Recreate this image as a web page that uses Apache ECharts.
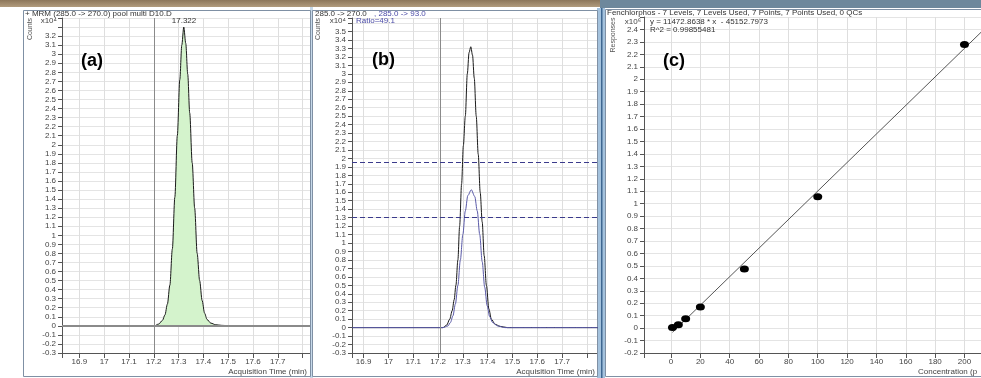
<!DOCTYPE html>
<html>
<head>
<meta charset="utf-8">
<script src="https://cdn.jsdelivr.net/npm/echarts@6.0.0/dist/echarts.min.js"></script>
<style>
html, body { margin: 0; padding: 0; background: #fff; overflow: hidden; }
#main { width: 981px; height: 378px; }
</style>
</head>
<body>
<div id="main"></div>
<script>
// (a) MRM 285 -> 270, counts x10^4
var peakATime = [17.205, 17.22, 17.235, 17.245, 17.255, 17.265, 17.275, 17.285, 17.295, 17.305, 17.313, 17.321,
    17.329, 17.337, 17.345, 17.355, 17.365, 17.375, 17.385, 17.395, 17.405, 17.415, 17.43, 17.45, 17.475, 17.505];
var peakACounts = [0, 0.02, 0.06, 0.12, 0.24, 0.45, 0.85, 1.42, 2.1, 2.72, 3.1, 3.30,
    3.12, 2.78, 2.35, 1.8, 1.3, 0.8, 0.5, 0.28, 0.14, 0.07, 0.03, 0.012, 0.005, 0];
var apexTime = 17.322;
var apexCounts = 3.30;

// (b) quantifier (black) and qualifier (blue), counts x10^4
var quantTime = [16.853, 17.22, 17.235, 17.247, 17.257, 17.265, 17.272, 17.28, 17.287, 17.295, 17.302, 17.31, 17.318,
    17.325, 17.332, 17.339, 17.346, 17.354, 17.362, 17.37, 17.378, 17.386, 17.395, 17.405, 17.415, 17.43, 17.45, 17.48, 17.845];
var quantCounts = [0, 0, 0.03, 0.1, 0.2, 0.33, 0.5, 0.8, 1.2, 1.7, 2.15, 2.5, 3.0,
    3.25, 3.32, 3.22, 2.95, 2.5, 2.05, 1.6, 1.25, 0.85, 0.5, 0.22, 0.1, 0.04, 0.015, 0, 0];
var qualTime = [16.853, 17.22, 17.24, 17.25, 17.26, 17.27, 17.28, 17.29, 17.3, 17.31, 17.32, 17.334,
    17.348, 17.358, 17.368, 17.378, 17.388, 17.398, 17.408, 17.42, 17.44, 17.47, 17.845];
var qualCounts = [0, 0, 0.02, 0.06, 0.14, 0.28, 0.5, 0.8, 1.1, 1.38, 1.56, 1.63,
    1.55, 1.38, 1.1, 0.78, 0.48, 0.26, 0.13, 0.06, 0.02, 0, 0];
var ratioLimits = [1.95, 1.30];
var startTimeA = 17.2;
var startTimeB = 17.212;

// (c) calibration, responses x10^6
var concLevels = [1, 5, 10, 20, 50, 100, 200];
var responses = [0.005, 0.027, 0.075, 0.17, 0.476, 1.055, 2.28];
var fitConc = [1, 215];
var fitResp = [-0.034, 2.42];

function zip(xs, ys) {
    var out = [];
    for (var i = 0; i < xs.length; i++) {
        out.push([xs[i], ys[i]]);
    }
    return out;
}

var FONT = 'Liberation Sans';

function yFmt(maxShow) {
    return function (v) {
        if (v > maxShow) return '';
        return String(Math.round(v * 10) / 10);
    };
}

function yAxisFor(gi, min, max, maxShow) {
    return {
        type: 'value', gridIndex: gi, min: min, max: max, interval: 0.1,
        axisLine: { show: true, onZero: false, lineStyle: { color: '#555', width: 1 } },
        axisTick: { show: true, length: 4, lineStyle: { color: '#555' } },
        axisLabel: { fontSize: 8, color: '#444', margin: 6, fontFamily: FONT, hideOverlap: false, formatter: yFmt(maxShow) },
        splitLine: { show: true, lineStyle: { color: '#e4e4e4', width: 1 } }
    };
}

function xTimeAxis(gi, min, max) {
    return {
        type: 'value', gridIndex: gi, min: min, max: max, splitNumber: 10,
        axisLine: { show: true, onZero: false, lineStyle: { color: '#555', width: 1 } },
        axisTick: { show: true, length: 5, lineStyle: { color: '#555' } },
        axisLabel: {
            fontSize: 8, color: '#444', margin: 5, fontFamily: FONT, hideOverlap: false,
            formatter: function (v) {
                if (v < 16.86 || v > 17.75) return '';
                return String(Math.round(v * 10) / 10);
            }
        },
        splitLine: { show: true, lineStyle: { color: '#dedede', width: 1 } }
    };
}

function txt(text, x, y, opts) {
    opts = opts || {};
    return {
        type: 'text', x: x, y: y, rotation: opts.rotation || 0, z: 50,
        style: {
            text: text,
            fill: opts.color || '#333',
            font: (opts.weight || 'normal') + ' ' + (opts.size || 8) + 'px "' + FONT + '"',
            align: opts.align || 'left',
            verticalAlign: 'middle'
        }
    };
}

var myChart = echarts.init(document.getElementById('main'));

var option = {
    animation: false,
    backgroundColor: '#fff',
    grid: [
        { left: 62, top: 18, width: 248, height: 335, outerBoundsMode: 'none' },
        { left: 352, top: 18, width: 246, height: 335, outerBoundsMode: 'none' },
        { left: 644, top: 17, width: 367, height: 336, outerBoundsMode: 'none' }
    ],
    xAxis: [
        xTimeAxis(0, 16.83, 17.83),
        xTimeAxis(1, 16.853, 17.845),
        {
            type: 'value', gridIndex: 2, min: -18.4, max: 231.7, splitNumber: 12,
            axisLine: { show: true, onZero: false, lineStyle: { color: '#555', width: 1 } },
            axisTick: { show: true, length: 5, lineStyle: { color: '#555' } },
            axisLabel: {
                fontSize: 8, color: '#444', margin: 5, fontFamily: FONT, hideOverlap: false,
                formatter: function (v) {
                    if (v < -1 || v > 210) return '';
                    return String(Math.round(v));
                }
            },
            splitLine: { show: true, lineStyle: { color: '#dedede', width: 1 } }
        }
    ],
    yAxis: [
        yAxisFor(0, -0.3, 3.4, 3.25),
        yAxisFor(1, -0.3, 3.66, 3.55),
        yAxisFor(2, -0.2, 2.5, 2.45)
    ],
    graphic: [
        // window strips and frames
        { type: 'rect', shape: { x: 0, y: 0, width: 600, height: 7 }, z: 1,
          style: { fill: new echarts.graphic.LinearGradient(0, 0, 0, 1, [{ offset: 0, color: '#8c765a' }, { offset: 1, color: '#b19b7d' }]) } },
        { type: 'rect', shape: { x: 600, y: 0, width: 381, height: 8 }, z: 1, style: { fill: '#6e889c' } },
        { type: 'rect', shape: { x: 310, y: 7, width: 3, height: 371 }, z: 1, style: { fill: '#c6d9ea' } },
        { type: 'rect', shape: { x: 597, y: 8, width: 8, height: 370 }, z: 1, style: { fill: '#a4c2dd' } },
        { type: 'rect', shape: { x: 601, y: 8, width: 1.5, height: 370 }, z: 1, style: { fill: '#3e6791' } },
        { type: 'rect', shape: { x: 23.5, y: 10.5, width: 287, height: 366 }, z: 2, style: { fill: 'none', stroke: '#7f90a4', lineWidth: 1 } },
        { type: 'rect', shape: { x: 312.5, y: 10.5, width: 285, height: 366 }, z: 2, style: { fill: 'none', stroke: '#7f90a4', lineWidth: 1 } },
        { type: 'rect', shape: { x: 605.5, y: 9.5, width: 400, height: 367 }, z: 2, style: { fill: 'none', stroke: '#7f90a4', lineWidth: 1 } },

        // panel (a)
        txt('+ MRM (285.0 -> 270.0) pool multi D10.D', 25, 14),
        txt('Counts', 30, 29, { rotation: Math.PI / 2, align: 'center', color: '#555', size: 7 }),
        txt('x10\u2074', 57, 21, { align: 'right', color: '#444' }),
        txt('(a)', 81, 61, { size: 18, weight: 'bold', color: '#000' }),
        txt('Acquisition Time (min)', 307, 372, { align: 'right', color: '#444' }),

        // panel (b)
        txt('285.0 -> 270.0', 315, 14),
        txt(', 285.0 -> 93.0', 374, 14, { color: '#4a4aa6' }),
        txt('Counts', 318, 29, { rotation: Math.PI / 2, align: 'center', color: '#555', size: 7 }),
        txt('x10\u2074', 346, 21, { align: 'right', color: '#444' }),
        txt('Ratio=49.1', 356, 21, { color: '#4a4aa6' }),
        txt('(b)', 372, 60, { size: 18, weight: 'bold', color: '#000' }),
        txt('Acquisition Time (min)', 595, 372, { align: 'right', color: '#444' }),

        // panel (c)
        txt('Fenchlorphos - 7 Levels, 7 Levels Used, 7 Points, 7 Points Used, 0 QCs', 607, 13),
        txt('Responses', 613, 35, { rotation: Math.PI / 2, align: 'center', color: '#555', size: 7 }),
        txt('x10\u2076', 641, 22, { align: 'right', color: '#444' }),
        txt('y = 11472.8638 * x  - 45152.7973', 650, 22),
        txt('R^2 = 0.99855481', 650, 30),
        txt('(c)', 663, 61, { size: 18, weight: 'bold', color: '#000' }),
        txt('Concentration (p', 918, 372, { color: '#444' })
    ],
    series: [
        {
            name: 'MRM 285 -> 270',
            type: 'line', xAxisIndex: 0, yAxisIndex: 0,
            data: zip(peakATime, peakACounts),
            showSymbol: false, smooth: 0.3, smoothMonotone: 'x',
            lineStyle: { color: '#1a1a1a', width: 1 },
            areaStyle: { color: '#d4f3cc', opacity: 1 },
            markLine: {
                silent: true, symbol: 'none', label: { show: false },
                data: [
                    { yAxis: 0, lineStyle: { color: '#8a8a8a', width: 2, type: 'solid' } },
                    { xAxis: startTimeA, lineStyle: { color: '#8a8a8a', width: 1, type: 'solid' } }
                ]
            },
            markPoint: {
                symbol: 'circle', symbolSize: 0, silent: true,
                data: [{ coord: [apexTime, apexCounts], value: apexTime }],
                label: { show: true, position: 'top', distance: 2, fontSize: 8, color: '#333', fontFamily: FONT,
                         formatter: function (p) { return p.value.toFixed(3); } }
            }
        },
        {
            name: '285 -> 270',
            type: 'line', xAxisIndex: 1, yAxisIndex: 1,
            data: zip(quantTime, quantCounts),
            showSymbol: false, smooth: 0.3, smoothMonotone: 'x',
            lineStyle: { color: '#1a1a1a', width: 1 },
            markLine: {
                silent: true, symbol: 'none', label: { show: false },
                data: [
                    { xAxis: startTimeB, lineStyle: { color: '#8a8a8a', width: 1, type: 'solid' } }
                ]
            }
        },
        {
            name: '285 -> 93',
            type: 'line', xAxisIndex: 1, yAxisIndex: 1,
            data: zip(qualTime, qualCounts),
            showSymbol: false, smooth: 0.3, smoothMonotone: 'x',
            lineStyle: { color: '#5a5aa8', width: 1 },
            markLine: {
                silent: true, symbol: 'none', label: { show: false },
                lineStyle: { color: '#3b3b8c', width: 1.2, type: [5, 3] },
                data: [{ yAxis: ratioLimits[0] }, { yAxis: ratioLimits[1] }]
            }
        },
        {
            name: 'fit',
            type: 'line', xAxisIndex: 2, yAxisIndex: 2,
            data: zip(fitConc, fitResp),
            showSymbol: false,
            lineStyle: { color: '#555', width: 1 }
        },
        {
            name: 'levels',
            type: 'scatter', xAxisIndex: 2, yAxisIndex: 2,
            data: zip(concLevels, responses),
            symbol: 'circle', symbolSize: [9, 7],
            itemStyle: { color: '#000', opacity: 1 },
            z: 5
        }
    ]
};

if (option && typeof option === "object") {
    myChart.setOption(option, true);
}
</script>
</body>
</html>
